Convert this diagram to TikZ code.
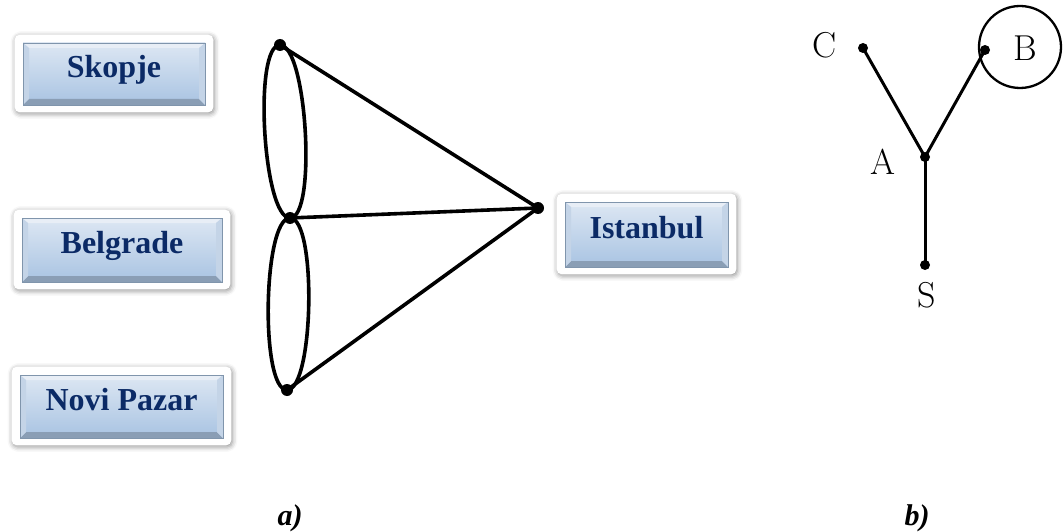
\documentclass[tikz,border=0pt]{standalone}
\usepackage{fontspec}
\newfontfamily\tnr{Liberation Serif}
\usetikzlibrary{shadows.blur,backgrounds}
\definecolor{navy}{HTML}{0B2A66}
\definecolor{faceTop}{HTML}{DDE7F3}
\definecolor{faceBot}{HTML}{A8C3E2}
\definecolor{bevBot}{HTML}{8A9EB5}
\definecolor{bevTop}{HTML}{E8EEF6}
\definecolor{bevSide}{HTML}{C4D4E7}
\definecolor{bevEdge}{HTML}{8095AC}
\tikzset{
  citybox/.style={inner sep=0pt, top color=faceTop, bottom color=faceBot,
    draw=bevEdge, line width=0.6pt, text=navy,
    font=\tnr\bfseries\fontsize{32}{36}\selectfont,
    text height=21pt, text depth=14pt,
    path picture={
      \fill[bevBot] (path picture bounding box.south west) -- (path picture bounding box.south east)
        -- ([xshift=-6pt,yshift=6pt]path picture bounding box.south east)
        -- ([xshift=6pt,yshift=6pt]path picture bounding box.south west) -- cycle;
      \fill[bevTop] (path picture bounding box.north west) -- (path picture bounding box.north east)
        -- ([xshift=-6pt,yshift=-5pt]path picture bounding box.north east)
        -- ([xshift=6pt,yshift=-5pt]path picture bounding box.north west) -- cycle;
      \fill[bevSide] (path picture bounding box.north west) -- (path picture bounding box.south west)
        -- ([xshift=6pt,yshift=6pt]path picture bounding box.south west)
        -- ([xshift=6pt,yshift=-5pt]path picture bounding box.north west) -- cycle;
      \fill[bevSide] (path picture bounding box.north east) -- (path picture bounding box.south east)
        -- ([xshift=-6pt,yshift=6pt]path picture bounding box.south east)
        -- ([xshift=-6pt,yshift=-5pt]path picture bounding box.north east) -- cycle;
    }},
  frame/.style={fill=white, rounded corners=5pt,
    blur shadow={shadow xshift=1pt, shadow yshift=-1.5pt, shadow blur radius=5pt, shadow opacity=45}},
  vtx/.style={circle, fill=black, inner sep=0pt, minimum size=12pt},
  dotb/.style={circle, fill=black, inner sep=0pt, minimum size=10pt},
  edge/.style={line width=3.6pt, black},
  edgeb/.style={line width=3pt, black},
  lbl/.style={font=\fontsize{36}{40}\selectfont, inner sep=0pt},
  captext/.style={font=\tnr\bfseries\itshape\fontsize{30}{34}\selectfont, inner sep=0pt, anchor=base}
}
\begin{document}
\begin{tikzpicture}[x=1pt,y=-1pt]
\useasboundingbox (0,0) rectangle (1063,532);

% city boxes
\node[citybox, minimum width=182pt, minimum height=62pt] (sk) at (114,74) {Skopje};
\node[citybox, minimum width=200pt, minimum height=64pt] (bg) at (122,250) {Belgrade};
\node[citybox, minimum width=203pt, minimum height=63pt] (np) at (121.5,406.5) {Novi Pazar};
\node[citybox, minimum width=163pt, minimum height=65pt] (is) at (646.5,234.5) {Istanbul};
\begin{scope}[on background layer]
  \foreach \n in {sk,bg,np,is}
    \fill[frame] ([xshift=-8pt,yshift=8pt]\n.north west) rectangle ([xshift=8pt,yshift=-7pt]\n.south east);
\end{scope}

% graph a)
\node[vtx] (v1) at (280,45) {};
\node[vtx] (v2) at (290,218) {};
\node[vtx] (v3) at (287,390) {};
\node[vtx] (v4) at (538,208) {};
\draw[edge] (v1.center) -- (v4.center);
\draw[edge] (v2.center) -- (v4.center);
\draw[edge] (v3.center) -- (v4.center);
\draw[edge] (v1.center) to[out=180,in=180,out distance=27pt,in distance=27pt] (v2.center)
                        to[out=0,in=0,out distance=27pt,in distance=27pt] (v1.center);
\draw[edge] (v2.center) to[out=180,in=180,out distance=27pt,in distance=27pt] (v3.center)
                        to[out=0,in=0,out distance=27pt,in distance=27pt] (v2.center);

% graph b)
\node[dotb] (A) at (925,157) {};
\node[dotb] (C) at (863,48) {};
\node[dotb] (B) at (985,50) {};
\node[dotb] (S) at (925,265) {};
\draw[edgeb] (A.center) -- (C.center);
\draw[edgeb] (A.center) -- (B.center);
\draw[edgeb] (A.center) -- (S.center);
\node[circle, draw=black, line width=2.3pt, minimum size=82pt, inner sep=0pt] (loopB) at (1020,47) {};
\node[lbl] (lC) at (825,45) {C};
\node[lbl] (lB) at (1025,48) {B};
\node[lbl] (lA) at (883,162) {A};
\node[lbl] (lS) at (927,295) {S};

% captions
\node[captext] (capa) at (290,525) {a)};
\node[captext] (capb) at (917,525) {b)};
\end{tikzpicture}
\end{document}
